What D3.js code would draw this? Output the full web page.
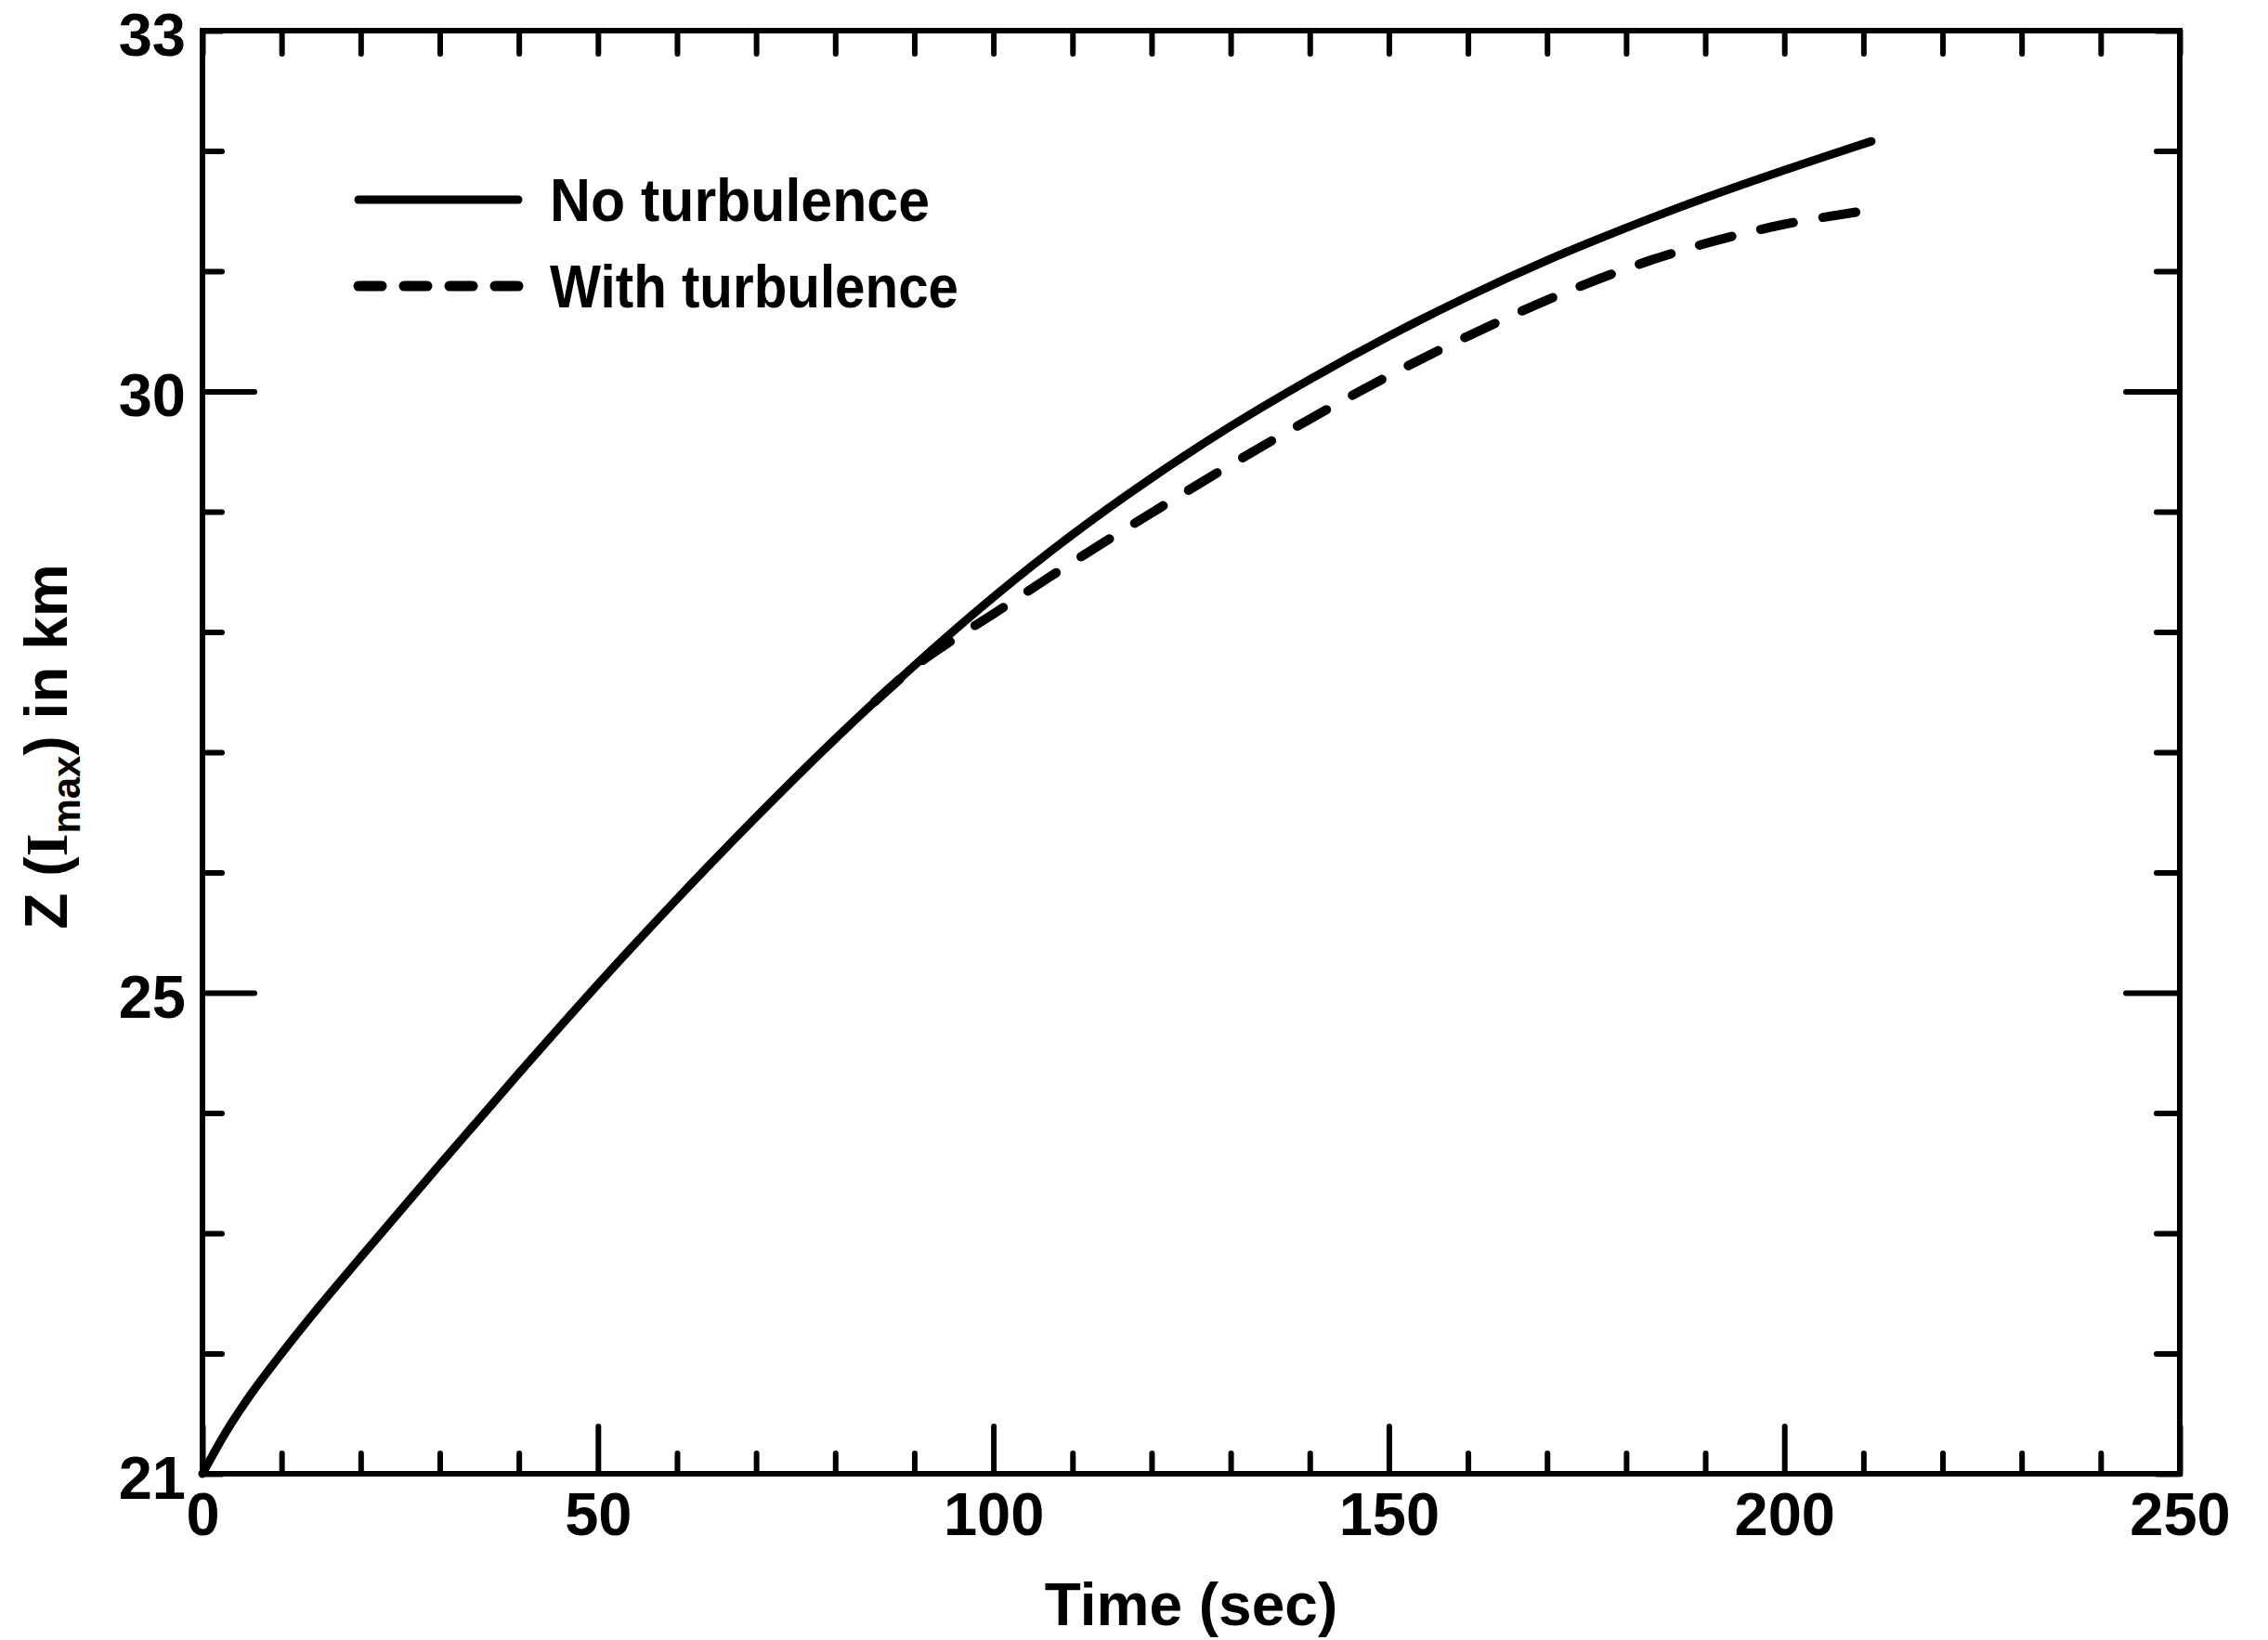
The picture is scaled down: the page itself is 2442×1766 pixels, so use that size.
<!DOCTYPE html>
<html>
<head>
<meta charset="utf-8">
<script src="https://cdn.jsdelivr.net/npm/d3@7"></script>
<style>
  body { margin: 0; background: #fff; }
  text { font-family: "Liberation Sans", Arial, sans-serif; font-weight: bold; fill: #000; }
</style>
</head>
<body>
<div id="chart"></div>
<script>
// data
const timeNoTurb = [0, 3, 6, 10, 15, 20, 30, 40, 50, 60, 70, 80, 90, 100, 110, 120, 130, 140, 150, 160, 170, 180, 190, 200, 211];
const zNoTurb = [21.0, 21.35, 21.65, 22.0, 22.41, 22.8, 23.57, 24.33, 25.07, 25.78, 26.46, 27.11, 27.72, 28.29, 28.81, 29.28, 29.71, 30.1, 30.46, 30.79, 31.09, 31.36, 31.61, 31.84, 32.08];

const timeTurb = [85, 90, 95, 100, 110, 120, 130, 140, 150, 160, 170, 180, 190, 200, 210];
const zTurb = [27.42, 27.71, 27.94, 28.15, 28.58, 28.99, 29.39, 29.77, 30.13, 30.46, 30.76, 31.02, 31.23, 31.39, 31.5];

const xTicks = d3.range(0, 251, 10);
const xLabels = [0, 50, 100, 150, 200, 250];
const yTicks = d3.range(21, 34, 1);
const yLabels = [21, 25, 30, 33];
const yMajor = [25, 30];

const legendItems = ["No turbulence", "With turbulence"];

// set the dimensions and margins of the graph
const width = 2442;
const height = 1766;
const margin = { top: 33, right: 95, bottom: 179, left: 218 };
const w = width - margin.left - margin.right;
const h = height - margin.top - margin.bottom;

const svg = d3.select("#chart")
  .append("svg")
  .attr("width", width)
  .attr("height", height);

svg.append("rect").attr("width", width).attr("height", height).attr("fill", "#fff");

const g = svg.append("g").attr("transform", `translate(${margin.left},${margin.top})`);

const x = d3.scaleLinear().domain([0, 250]).range([0, w]);
const y = d3.scaleLinear().domain([21, 33]).range([h, 0]);

// axes: all ticks point inward
const axisB = g.append("g")
  .attr("transform", `translate(0,${h})`)
  .call(d3.axisBottom(x).tickValues(xTicks).tickSize(-22).tickSizeOuter(0).tickPadding(20)
    .tickFormat(d => xLabels.includes(d) ? d : ""));
axisB.selectAll(".tick line").filter(d => d % 50 === 0).attr("y2", -51);

const axisT = g.append("g")
  .call(d3.axisTop(x).tickValues(xTicks).tickSize(-25).tickSizeOuter(0).tickFormat(""));

const axisL = g.append("g")
  .call(d3.axisLeft(y).tickValues(yTicks).tickSize(-21).tickSizeOuter(0).tickPadding(18)
    .tickFormat(d => yLabels.includes(d) ? d : ""));
axisL.selectAll(".tick line").filter(d => yMajor.includes(d)).attr("x2", 56);
axisL.selectAll(".tick text").attr("dy", "0.4em");

const axisR = g.append("g")
  .attr("transform", `translate(${w},0)`)
  .call(d3.axisRight(y).tickValues(yTicks).tickSize(-25).tickSizeOuter(0).tickFormat(""));
axisR.selectAll(".tick line").filter(d => yMajor.includes(d)).attr("x2", -58);

g.selectAll(".domain").remove();
g.selectAll(".tick line").attr("stroke", "#000").attr("stroke-width", 6).attr("stroke-linecap", "round");
g.selectAll(".tick text").attr("font-size", 65).attr("fill", "#000");

// frame
g.append("rect")
  .attr("width", w).attr("height", h)
  .attr("fill", "none").attr("stroke", "#000").attr("stroke-width", 6);

// curves
const line = d3.line()
  .x(d => x(d[0]))
  .y(d => y(d[1]))
  .curve(d3.curveCatmullRom.alpha(0.5));

g.append("path")
  .datum(d3.zip(timeTurb, zTurb))
  .attr("d", line)
  .attr("fill", "none")
  .attr("stroke", "#000")
  .attr("stroke-width", 10)
  .attr("stroke-linecap", "round")
  .attr("stroke-dasharray", "36,32");

g.append("path")
  .datum(d3.zip(timeNoTurb, zNoTurb))
  .attr("d", line)
  .attr("fill", "none")
  .attr("stroke", "#000")
  .attr("stroke-width", 9)
  .attr("stroke-linecap", "round");

// legend
const legendWidths = [409, 440];
const legend = g.append("g").attr("transform", "translate(168,182)");
legendItems.forEach((name, i) => {
  const row = legend.append("g").attr("transform", `translate(0,${i * 93})`);
  row.append("line")
    .attr("x1", 0).attr("x2", 172).attr("y1", 0).attr("y2", 0)
    .attr("stroke", "#000").attr("stroke-width", i === 0 ? 9 : 11)
    .attr("stroke-linecap", "round")
    .attr("stroke-dasharray", i === 0 ? null : "25,24");
  row.append("text")
    .attr("x", 206).attr("y", 23)
    .attr("font-size", 64)
    .attr("textLength", legendWidths[i])
    .attr("lengthAdjust", "spacingAndGlyphs")
    .text(name);
});

// axis titles
svg.append("text")
  .attr("x", margin.left + w / 2)
  .attr("y", 1750)
  .attr("text-anchor", "middle")
  .attr("font-size", 64)
  .text("Time (sec)");

const yt = svg.append("text")
  .attr("transform", `translate(72,${margin.top + h / 2 - 6}) rotate(-90)`)
  .attr("text-anchor", "middle")
  .attr("font-size", 64);
yt.append("tspan").text("Z (");
yt.append("tspan").style("font-family", "'Liberation Serif', serif").text("I");
yt.append("tspan").attr("font-size", 42).attr("dy", 14).text("max");
yt.append("tspan").attr("dy", -14).text(") in km");
</script>
</body>
</html>
